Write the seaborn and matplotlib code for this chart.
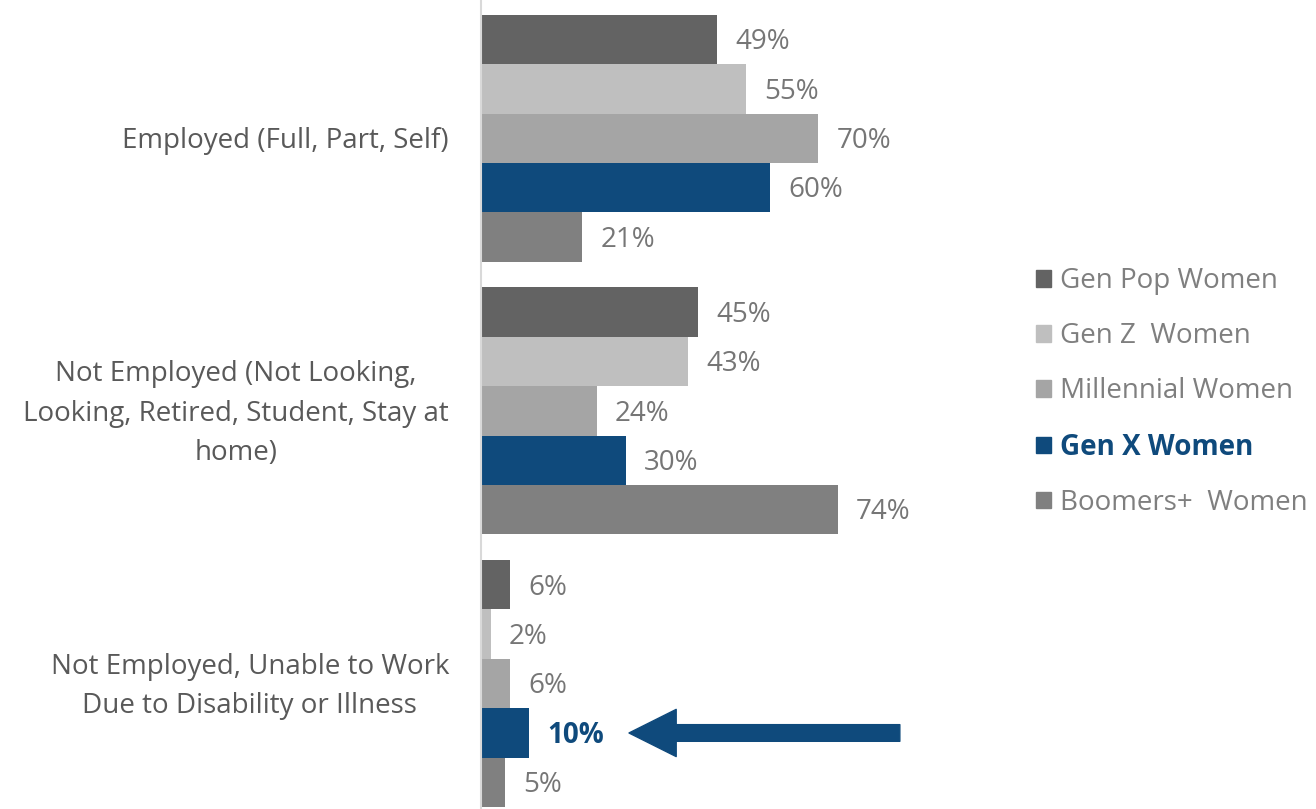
import matplotlib
matplotlib.use("Agg")
import matplotlib.pyplot as plt
import seaborn as sns
import pandas as pd

# Survey categories and series
categories = [
    "Employed (Full, Part, Self)",
    "Not Employed (Not Looking,\nLooking, Retired, Student, Stay at\nhome)",
    "Not Employed, Unable to Work\nDue to Disability or Illness",
]
series = ["Gen Pop Women", "Gen Z  Women", "Millennial Women", "Gen X Women", "Boomers+  Women"]
gen_pop = [49, 45, 6]
gen_z = [55, 43, 2]
millennial = [70, 24, 6]
gen_x = [60, 30, 10]
boomers = [21, 74, 5]

colors = ["#636363", "#bfbfbf", "#a5a5a5", "#0f4a7c", "#808080"]
highlight = "#0f4a7c"
label_gray = "#767676"

values = [gen_pop, gen_z, millennial, gen_x, boomers]
rows = []
for s, vals in zip(series, values):
    for c, v in zip(categories, vals):
        rows.append({"category": c, "series": s, "value": v})
df = pd.DataFrame(rows)

sns.set_theme(style="white")
plt.rcParams["font.family"] = ["Open Sans", "DejaVu Sans"]

fig = plt.figure(figsize=(13.16, 8.09), dpi=100)
ax = fig.add_axes([481 / 1316, 0.0, (1000 - 481) / 1316, 1.0])

sns.barplot(
    data=df, y="category", x="value", hue="series", order=categories,
    hue_order=series, palette=colors, orient="h", width=0.906,
    saturation=1, ax=ax, legend=True, linewidth=0,
)

ax.set_xlim(0, (1000 - 481) / 4.82)
ax.set_ylim(2.46, -0.507)
ax.set_xlabel("")
ax.set_ylabel("")
ax.set_xticks([])
ax.set_yticklabels([])
ax.tick_params(axis="y", length=0)

# Category labels, right-aligned against the axis with centered lines
for i, cat in enumerate(categories):
    ax.annotate(cat, xy=(0, i), xycoords=("axes fraction", "data"),
                xytext=(-23, -2), textcoords="offset points",
                ha="right", va="center", multialignment="center",
                linespacing=1.55, fontsize=20, color="#595959")

for side in ["top", "right", "bottom"]:
    ax.spines[side].set_visible(False)
ax.spines["left"].set_color("#d9d9d9")
ax.spines["left"].set_linewidth(1.5)

# Value labels
for i, cont in enumerate(ax.containers):
    texts = ax.bar_label(cont, labels=[f"{v}%" for v in values[i]], padding=13,
                         fontsize=20, color=label_gray)
    for t in texts:
        t.xyann = (13, -2)
    if series[i] == "Gen X Women":
        texts[2].set_color(highlight)
        texts[2].set_fontweight("bold")

# Arrow pointing at the Gen X disability value
gx_y = 2 + (3 - 2) * 0.906 / 5
ax.annotate(
    "", xy=(30.7, gx_y), xytext=(86.9, gx_y),
    arrowprops=dict(arrowstyle="simple,head_length=3.4,head_width=3.4,tail_width=1.2",
                    mutation_scale=10, color=highlight, shrinkA=0, shrinkB=0),
    annotation_clip=False,
)

# Legend
ax.legend_.remove()
handles = [plt.Rectangle((0, 0), 1, 1, color=c) for c in colors]
leg = fig.legend(handles, series, loc="center left", bbox_to_anchor=(1036 / 1316, 1 - 392 / 809),
                 frameon=False, fontsize=20, handlelength=0.55, handleheight=0.55,
                 handletextpad=0.3, labelspacing=0.98, borderaxespad=0, borderpad=0)
for t, s in zip(leg.get_texts(), series):
    if s == "Gen X Women":
        t.set_color(highlight)
        t.set_fontweight("bold")
    else:
        t.set_color("#7f7f7f")

fig.savefig("out.png", dpi=100)
